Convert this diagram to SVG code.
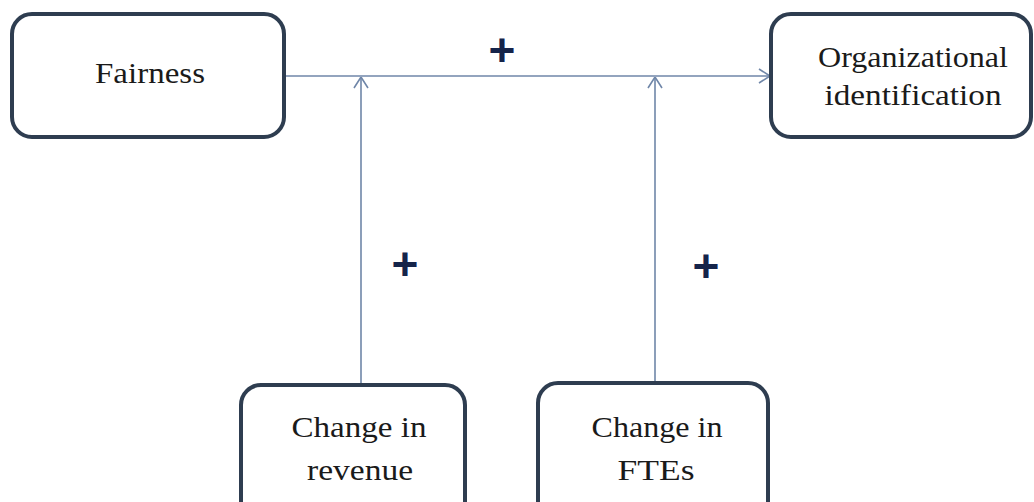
<svg xmlns="http://www.w3.org/2000/svg" width="1034" height="502" viewBox="0 0 1034 502">
<defs>
<style>
.box{fill:#ffffff;stroke:#2e3d50;stroke-width:4}
.lbl{font-family:"Liberation Serif","Times New Roman",serif;font-size:30px;fill:#1a1a1a;text-anchor:middle}
.conn{stroke:#6f86a8;stroke-width:1.6;fill:none}
.plus{font-family:"Liberation Sans",Arial,sans-serif;font-weight:bold;font-size:46px;fill:#15244a;text-anchor:middle}
</style>
<marker id="arr" viewBox="0 0 12 16" refX="12" refY="8" markerWidth="12" markerHeight="16" markerUnits="userSpaceOnUse" orient="auto">
<path d="M1,1 L12,8 L1,15" fill="none" stroke="#6f86a8" stroke-width="1.6"/>
</marker>
</defs>
<rect width="1034" height="502" fill="#ffffff"/>
<g id="connectors">
<line class="conn" x1="286" y1="76" x2="770" y2="76" marker-end="url(#arr)"/>
<line class="conn" x1="361" y1="384" x2="361" y2="77" marker-end="url(#arr)"/>
<line class="conn" x1="655" y1="382" x2="655" y2="77" marker-end="url(#arr)"/>
<text class="plus" x="502" y="66">+</text>
<text class="plus" x="405" y="280">+</text>
<text class="plus" x="706" y="282">+</text>
</g>
<g id="fairness">
<rect class="box" x="12" y="14" width="272" height="123" rx="20"/>
<text class="lbl" x="150" y="83" textLength="110" lengthAdjust="spacingAndGlyphs">Fairness</text>
</g>
<g id="orgid">
<rect class="box" x="771" y="14" width="260" height="123" rx="20"/>
<text class="lbl" x="913" y="67" textLength="190" lengthAdjust="spacingAndGlyphs">Organizational</text>
<text class="lbl" x="913" y="105" textLength="177" lengthAdjust="spacingAndGlyphs">identification</text>
</g>
<g id="revenue">
<rect class="box" x="241" y="385" width="224" height="140" rx="20"/>
<text class="lbl" x="359" y="437" textLength="135" lengthAdjust="spacingAndGlyphs">Change in</text>
<text class="lbl" x="360" y="480" textLength="106" lengthAdjust="spacingAndGlyphs">revenue</text>
</g>
<g id="ftes">
<rect class="box" x="538" y="383" width="230" height="142" rx="20"/>
<text class="lbl" x="657" y="437" textLength="131" lengthAdjust="spacingAndGlyphs">Change in</text>
<text class="lbl" x="656" y="480" textLength="77" lengthAdjust="spacingAndGlyphs">FTEs</text>
</g>
</svg>
